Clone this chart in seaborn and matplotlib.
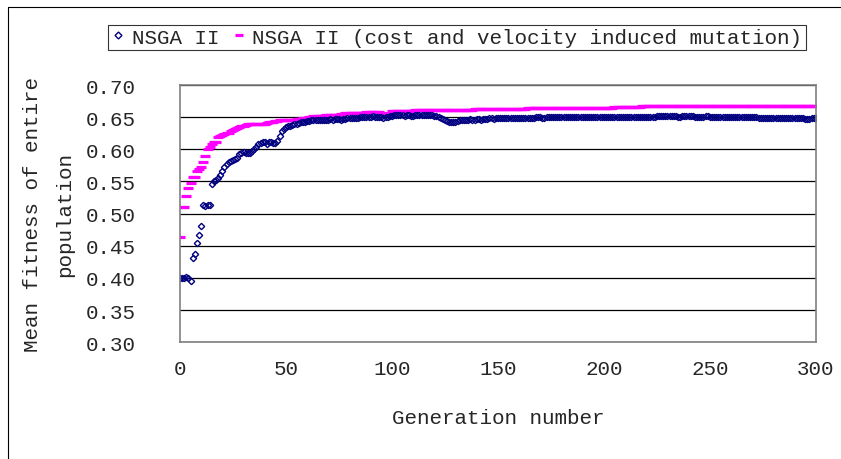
import numpy as np
import pandas as pd
import matplotlib
matplotlib.use("Agg")
import matplotlib.pyplot as plt
from matplotlib.lines import Line2D
import seaborn as sns

# mean fitness per generation (gen 0..300)
nsga = [
    0.400, 0.400, 0.400, 0.401, 0.400, 0.395, 0.431, 0.437, 0.455, 0.467,
    0.480, 0.513, 0.512, 0.514, 0.513, 0.546, 0.550, 0.552, 0.555, 0.560,
    0.567, 0.572, 0.577, 0.580, 0.582, 0.583, 0.585, 0.587, 0.593, 0.595,
    0.596, 0.594, 0.594, 0.594, 0.598, 0.601, 0.604, 0.608, 0.610, 0.612,
    0.611, 0.609, 0.611, 0.612, 0.610, 0.610, 0.613, 0.620, 0.628, 0.632,
    0.635, 0.636, 0.637, 0.638, 0.639, 0.640, 0.641, 0.642, 0.643, 0.643,
    0.644, 0.644, 0.645, 0.645, 0.645, 0.646, 0.645, 0.646, 0.646, 0.646,
    0.646, 0.647, 0.646, 0.647, 0.647, 0.647, 0.646, 0.647, 0.647, 0.648,
    0.648, 0.648, 0.649, 0.649, 0.649, 0.650, 0.650, 0.651, 0.651, 0.651,
    0.651, 0.652, 0.651, 0.651, 0.650, 0.650, 0.649, 0.650, 0.651, 0.652,
    0.652, 0.653, 0.653, 0.653, 0.653, 0.653, 0.652, 0.653, 0.653, 0.652,
    0.652, 0.653, 0.653, 0.653, 0.653, 0.653, 0.653, 0.654, 0.653, 0.653,
    0.652, 0.652, 0.651, 0.649, 0.647, 0.645, 0.644, 0.643, 0.643, 0.643,
    0.643, 0.644, 0.645, 0.645, 0.646, 0.646, 0.646, 0.647, 0.646, 0.646,
    0.647, 0.647, 0.646, 0.647, 0.647, 0.647, 0.648, 0.648, 0.647, 0.648,
    0.648, 0.648, 0.649, 0.649, 0.648, 0.648, 0.648, 0.649, 0.648, 0.648,
    0.648, 0.648, 0.648, 0.649, 0.649, 0.649, 0.649, 0.649, 0.650, 0.650,
    0.650, 0.649, 0.649, 0.650, 0.650, 0.650, 0.651, 0.651, 0.651, 0.651,
    0.651, 0.651, 0.650, 0.650, 0.650, 0.650, 0.650, 0.650, 0.650, 0.650,
    0.650, 0.650, 0.650, 0.650, 0.650, 0.650, 0.650, 0.650, 0.650, 0.650,
    0.650, 0.650, 0.650, 0.650, 0.650, 0.650, 0.650, 0.650, 0.650, 0.650,
    0.650, 0.650, 0.651, 0.651, 0.651, 0.651, 0.651, 0.651, 0.651, 0.651,
    0.651, 0.651, 0.651, 0.651, 0.651, 0.652, 0.652, 0.652, 0.652, 0.652,
    0.652, 0.652, 0.652, 0.652, 0.652, 0.651, 0.651, 0.652, 0.652, 0.652,
    0.652, 0.652, 0.652, 0.651, 0.651, 0.651, 0.651, 0.651, 0.652, 0.652,
    0.651, 0.651, 0.650, 0.650, 0.650, 0.650, 0.650, 0.651, 0.650, 0.650,
    0.650, 0.650, 0.650, 0.650, 0.650, 0.650, 0.651, 0.650, 0.650, 0.650,
    0.650, 0.650, 0.650, 0.649, 0.649, 0.649, 0.649, 0.649, 0.649, 0.649,
    0.649, 0.649, 0.649, 0.649, 0.648, 0.648, 0.648, 0.648, 0.648, 0.648,
    0.648, 0.648, 0.648, 0.648, 0.648, 0.647, 0.647, 0.647, 0.648, 0.648,
    0.648,
]

nsga_cv = [
    0.463, 0.511, 0.511, 0.527, 0.540, 0.547, 0.557, 0.557, 0.567, 0.570,
    0.572, 0.581, 0.589, 0.600, 0.604, 0.608, 0.611, 0.611, 0.619, 0.620,
    0.622, 0.624, 0.625, 0.626, 0.628, 0.630, 0.631, 0.633, 0.635, 0.636,
    0.637, 0.638, 0.639, 0.640, 0.640, 0.640, 0.639, 0.639, 0.640, 0.640,
    0.640, 0.641, 0.642, 0.643, 0.643, 0.644, 0.644, 0.645, 0.645, 0.646,
    0.646, 0.646, 0.646, 0.646, 0.646, 0.647, 0.647, 0.647, 0.648, 0.648,
    0.649, 0.650, 0.651, 0.652, 0.652, 0.652, 0.652, 0.652, 0.652, 0.653,
    0.653, 0.653, 0.653, 0.654, 0.654, 0.654, 0.655, 0.655, 0.656, 0.656,
    0.656, 0.656, 0.656, 0.657, 0.657, 0.657, 0.657, 0.657, 0.658, 0.658,
    0.658, 0.658, 0.658, 0.658, 0.658, 0.657, 0.655, 0.654, 0.655, 0.657,
    0.659, 0.660, 0.660, 0.660, 0.660, 0.660, 0.660, 0.660, 0.660, 0.660,
    0.660, 0.661, 0.661, 0.661, 0.661, 0.661, 0.661, 0.661, 0.661, 0.661,
    0.661, 0.661, 0.661, 0.661, 0.661, 0.661, 0.661, 0.661, 0.661, 0.661,
    0.661, 0.661, 0.661, 0.661, 0.661, 0.661, 0.661, 0.661, 0.661, 0.662,
    0.662, 0.662, 0.662, 0.662, 0.662, 0.662, 0.662, 0.662, 0.662, 0.662,
    0.662, 0.662, 0.662, 0.662, 0.662, 0.662, 0.663, 0.663, 0.663, 0.663,
    0.663, 0.663, 0.663, 0.663, 0.664, 0.664, 0.664, 0.664, 0.664, 0.664,
    0.664, 0.664, 0.664, 0.665, 0.665, 0.665, 0.665, 0.665, 0.665, 0.665,
    0.665, 0.665, 0.665, 0.665, 0.665, 0.665, 0.665, 0.665, 0.665, 0.665,
    0.665, 0.665, 0.665, 0.665, 0.665, 0.665, 0.665, 0.665, 0.665, 0.665,
    0.665, 0.665, 0.665, 0.665, 0.665, 0.666, 0.666, 0.666, 0.666, 0.666,
    0.666, 0.666, 0.666, 0.666, 0.666, 0.666, 0.666, 0.666, 0.667, 0.667,
    0.667, 0.667, 0.667, 0.667, 0.667, 0.667, 0.667, 0.667, 0.667, 0.667,
    0.667, 0.667, 0.667, 0.667, 0.667, 0.667, 0.667, 0.667, 0.667, 0.667,
    0.667, 0.667, 0.667, 0.667, 0.667, 0.667, 0.667, 0.667, 0.667, 0.667,
    0.668, 0.668, 0.668, 0.668, 0.668, 0.668, 0.668, 0.668, 0.668, 0.668,
    0.668, 0.668, 0.668, 0.668, 0.668, 0.668, 0.668, 0.668, 0.668, 0.668,
    0.668, 0.668, 0.668, 0.668, 0.668, 0.668, 0.668, 0.668, 0.668, 0.668,
    0.668, 0.668, 0.668, 0.668, 0.668, 0.668, 0.668, 0.668, 0.668, 0.668,
    0.668, 0.668, 0.668, 0.668, 0.668, 0.668, 0.668, 0.668, 0.668, 0.668,
    0.668,
]

generations = list(range(len(nsga)))
labels = ["NSGA II", "NSGA II (cost and velocity induced mutation)"]
x_ticks = [0, 50, 100, 150, 200, 250, 300]
y_ticks = [0.30, 0.35, 0.40, 0.45, 0.50, 0.55, 0.60, 0.65, 0.70]

sns.set_style("white")
plt.rcParams["font.family"] = ["Liberation Mono", "DejaVu Sans Mono"]
plt.rcParams["font.size"] = 15

fig = plt.figure(figsize=(8.41, 4.6), dpi=100)
ax = fig.add_axes([0.214, 0.254, 0.756, 0.559])

sns.lineplot(x=generations, y=nsga_cv, ax=ax, linestyle="", marker="_",
             markersize=6.5, markeredgewidth=2.3, markeredgecolor="#FF00FF",
             color="#FF00FF", label=labels[1])
sns.lineplot(x=generations, y=nsga, ax=ax, linestyle="", marker="D",
             markersize=3.2, markerfacecolor="none", markeredgewidth=1.0,
             markeredgecolor="#000080", color="#000080", label=labels[0])

ax.set_xlim(0, 300)
ax.set_ylim(0.30, 0.70)
ax.set_xticks(x_ticks)
ax.set_yticks(y_ticks)
ax.set_yticklabels([f"{v:.2f}" for v in y_ticks])
ax.yaxis.grid(True, color="black", linewidth=0.9)
ax.set_axisbelow(True)
for s in ax.spines.values():
    s.set_color("#808080")
    s.set_linewidth(1.2)
ax.tick_params(axis="both", length=0, labelsize=15)
ax.tick_params(axis="y", pad=32)
ax.tick_params(axis="x", pad=12)

ax.set_xlabel("Generation number", fontsize=15, labelpad=22)
ax.set_ylabel("Mean fitness of entire\npopulation", fontsize=15, labelpad=8,
              linespacing=1.9)

# legend in a box above the plot area
ax.get_legend().remove()
handles = [
    Line2D([], [], linestyle="", marker="D", markersize=3.5, markerfacecolor="none",
           markeredgecolor="#000080", markeredgewidth=1),
    Line2D([], [], linestyle="", marker="_", markersize=6, markeredgewidth=2.3,
           color="#FF00FF"),
]
leg = fig.legend(handles, labels, loc="center", bbox_to_anchor=(0.543, 0.917),
                 ncol=2, frameon=True, fancybox=False, fontsize=15,
                 handlelength=0.7, handletextpad=0.3, columnspacing=0.6,
                 borderpad=0.15, borderaxespad=0)
leg.get_frame().set_edgecolor("black")
leg.get_frame().set_linewidth(0.8)

# outer chart border (left and top visible)
fig.add_artist(Line2D([8 / 841, 8 / 841], [0, 1 - 8 / 460], transform=fig.transFigure,
                      color="black", linewidth=0.8))
fig.add_artist(Line2D([8 / 841, 1], [1 - 8 / 460, 1 - 8 / 460], transform=fig.transFigure,
                      color="black", linewidth=0.8))

fig.savefig("out.png", dpi=100)
